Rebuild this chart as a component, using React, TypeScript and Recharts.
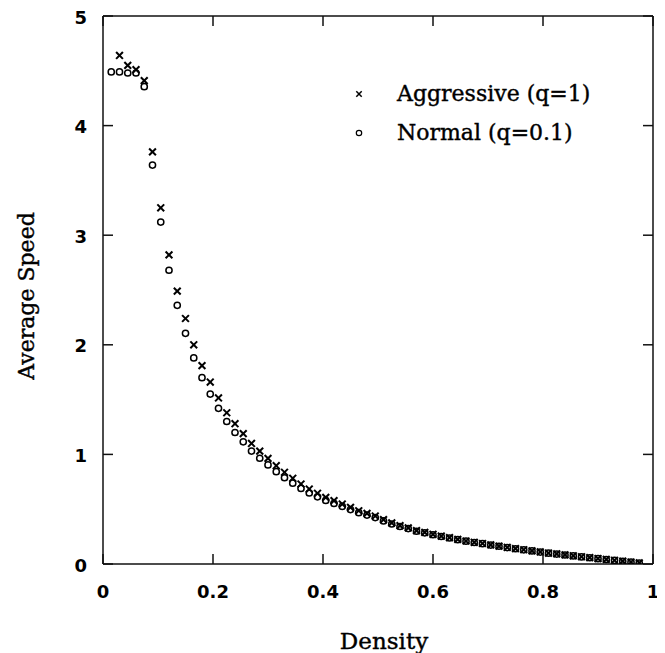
import React from "react";
import { ScatterChart, Scatter, XAxis, YAxis, Legend, Label } from "recharts";

const density = [
  0.015, 0.03, 0.045, 0.06, 0.075, 0.09, 0.105, 0.12, 0.135, 0.15,
  0.165, 0.18, 0.195, 0.21, 0.225, 0.24, 0.255, 0.27, 0.285, 0.3,
  0.315, 0.33, 0.345, 0.36, 0.375, 0.39, 0.405, 0.42, 0.435, 0.45,
  0.465, 0.48, 0.495, 0.51, 0.525, 0.54, 0.555, 0.57, 0.585, 0.6,
  0.615, 0.63, 0.645, 0.66, 0.675, 0.69, 0.705, 0.72, 0.735, 0.75,
  0.765, 0.78, 0.795, 0.81, 0.825, 0.84, 0.855, 0.87, 0.885, 0.9,
  0.915, 0.93, 0.945, 0.96, 0.975,
];

// Aggressive (q=1): starts at the second density value
const aggressiveSpeed = [
  4.64, 4.55, 4.51, 4.41, 3.76, 3.25, 2.82, 2.49, 2.24,
  2.0, 1.81, 1.66, 1.515, 1.38, 1.28, 1.19, 1.1, 1.03, 0.964,
  0.897, 0.837, 0.782, 0.73, 0.684, 0.645, 0.608, 0.578, 0.547, 0.517,
  0.486, 0.462, 0.438, 0.405, 0.375, 0.35, 0.33, 0.305, 0.289, 0.271,
  0.255, 0.24, 0.225, 0.21, 0.198, 0.187, 0.175, 0.163, 0.151, 0.14,
  0.13, 0.12, 0.11, 0.1, 0.092, 0.083, 0.075, 0.066, 0.058, 0.05,
  0.042, 0.034, 0.026, 0.018, 0.01,
];

// Normal (q=0.1)
const normalSpeed = [
  4.49, 4.49, 4.48, 4.48, 4.355, 3.64, 3.12, 2.68, 2.36, 2.105,
  1.88, 1.7, 1.55, 1.42, 1.3, 1.2, 1.115, 1.03, 0.965, 0.904,
  0.842, 0.787, 0.737, 0.69, 0.648, 0.613, 0.58, 0.553, 0.525, 0.497,
  0.468, 0.446, 0.424, 0.393, 0.365, 0.342, 0.323, 0.299, 0.284, 0.267,
  0.251, 0.237, 0.222, 0.208, 0.196, 0.185, 0.173, 0.162, 0.15, 0.139,
  0.129, 0.119, 0.109, 0.099, 0.091, 0.082, 0.074, 0.065, 0.057, 0.049,
  0.041, 0.033, 0.025, 0.017, 0.009,
];

const xTicks = [0, 0.2, 0.4, 0.6, 0.8, 1];
const yTicks = [0, 1, 2, 3, 4, 5];
const seriesNames = ["Aggressive (q=1)", "Normal (q=0.1)"];

const aggressiveData = aggressiveSpeed.map((v, i) => ({ x: density[i + 1], y: v }));
const normalData = normalSpeed.map((v, i) => ({ x: density[i], y: v }));

const TICK_FONT = {
  fontFamily: "'DejaVu Sans', Verdana, sans-serif",
  fontWeight: 700,
  fontSize: 18,
  fill: "#000",
};
const SERIF = "'DejaVu Serif', serif";
const TICK_LEN = 10;
const FRAME = "#111";

const BottomTick = (p: any) => {
  const { x, y, payload } = p;
  return (
    <g>
      <line x1={x} y1={y} x2={x} y2={y - TICK_LEN} stroke={FRAME} strokeWidth={1.5} />
      <text x={x} y={y + 27} textAnchor="middle" dominantBaseline="central" {...TICK_FONT}>
        {String(payload.value)}
      </text>
    </g>
  );
};
const TopTick = (p: any) => {
  const { x, y } = p;
  return <line x1={x} y1={y} x2={x} y2={y + TICK_LEN} stroke={FRAME} strokeWidth={1.5} />;
};
const LeftTick = (p: any) => {
  const { x, y, payload } = p;
  return (
    <g>
      <line x1={x} y1={y} x2={x + TICK_LEN} y2={y} stroke={FRAME} strokeWidth={1.5} />
      <text x={x - 16} y={y + 1} textAnchor="end" dominantBaseline="central" {...TICK_FONT}>
        {String(payload.value)}
      </text>
    </g>
  );
};
const RightTick = (p: any) => {
  const { x, y } = p;
  return <line x1={x} y1={y} x2={x - TICK_LEN} y2={y} stroke={FRAME} strokeWidth={1.5} />;
};

const CrossShape = (p: any) => {
  const { cx, cy } = p;
  const s = 3.4;
  return (
    <g stroke="#000" strokeWidth={2}>
      <line x1={cx - s} y1={cy - s} x2={cx + s} y2={cy + s} />
      <line x1={cx - s} y1={cy + s} x2={cx + s} y2={cy - s} />
    </g>
  );
};
const CircleShape = (p: any) => {
  const { cx, cy } = p;
  return <circle cx={cx} cy={cy} r={3.1} fill="none" stroke="#000" strokeWidth={1.5} />;
};

const LegendContent = (p: any) => {
  const items = (p.payload || []) as any[];
  return (
    <div>
      {items.map((it: any, i: number) => (
        <div key={i} style={{ display: "flex", alignItems: "center", height: 39 }}>
          <svg width={14} height={14} style={{ flex: "none" }}>
            {it.value === seriesNames[0] ? (
              <g stroke="#000" strokeWidth={1.5}>
                <line x1={4.3} y1={4.3} x2={9.7} y2={9.7} />
                <line x1={4.3} y1={9.7} x2={9.7} y2={4.3} />
              </g>
            ) : (
              <circle cx={7} cy={7} r={2.7} fill="none" stroke="#000" strokeWidth={1.2} />
            )}
          </svg>
          <span style={{ fontFamily: SERIF, fontSize: 22, color: "#000", marginLeft: 31, whiteSpace: "nowrap",
            WebkitTextStroke: "0.4px #000" }}>
            {it.value}
          </span>
        </div>
      ))}
    </div>
  );
};

const YTitle = (p: any) => {
  const vb = p.viewBox || {};
  const cx = vb.x + 18;
  const cy = vb.y + vb.height / 2 + 6;
  return (
    <text x={cx} y={cy} transform={`rotate(-90 ${cx} ${cy})`} textAnchor="middle" dominantBaseline="central"
      fontFamily={SERIF} fontSize={22} fill="#000" stroke="#000" strokeWidth={0.4}>
      Average Speed
    </text>
  );
};
const XTitle = (p: any) => {
  const vb = p.viewBox || {};
  return (
    <text x={vb.x + vb.width / 2 + 6} y={vb.y + 85} textAnchor="middle" fontFamily={SERIF} fontSize={23}
      fill="#000" stroke="#000" strokeWidth={0.4}>
      Density
    </text>
  );
};

export default function App() {
  return (
    <ScatterChart width={657} height={645} margin={{ top: 7, right: 11, bottom: 0, left: 0 }}>
      <XAxis xAxisId="b" dataKey="x" type="number" domain={[0, 1]} ticks={xTicks} interval={0}
        orientation="bottom" height={89} tickSize={0} tickMargin={0} tickLine={false}
        axisLine={{ stroke: FRAME, strokeWidth: 1.5 }} tick={<BottomTick />} allowDataOverflow>
        <Label content={<XTitle />} />
      </XAxis>
      <XAxis xAxisId="t" dataKey="x" type="number" domain={[0, 1]} ticks={xTicks} interval={0}
        orientation="top" height={1} tickSize={0} tickMargin={0} tickLine={false}
        axisLine={{ stroke: FRAME, strokeWidth: 1.5 }} tick={<TopTick />} allowDataOverflow />
      <YAxis yAxisId="l" dataKey="y" type="number" domain={[0, 5]} ticks={yTicks} interval={0}
        orientation="left" width={95} tickSize={0} tickMargin={0} tickLine={false}
        axisLine={{ stroke: FRAME, strokeWidth: 1.5 }} tick={<LeftTick />} allowDataOverflow>
        <Label content={<YTitle />} />
      </YAxis>
      <YAxis yAxisId="r" dataKey="y" type="number" domain={[0, 5]} ticks={yTicks} interval={0}
        orientation="right" width={1} tickSize={0} tickMargin={0} tickLine={false}
        axisLine={{ stroke: FRAME, strokeWidth: 1.5 }} tick={<RightTick />} allowDataOverflow />
      <Legend content={<LegendContent />} layout="vertical" verticalAlign="middle" align="center"
        wrapperStyle={{ position: "absolute", left: 344, top: 66, width: 280 }} />
      <Scatter name={seriesNames[0]} data={aggressiveData} xAxisId="b" yAxisId="l"
        shape={<CrossShape />} fill="#000" isAnimationActive={false} />
      <Scatter name={seriesNames[1]} data={normalData} xAxisId="b" yAxisId="l"
        shape={<CircleShape />} fill="#000" isAnimationActive={false} />
    </ScatterChart>
  );
}
